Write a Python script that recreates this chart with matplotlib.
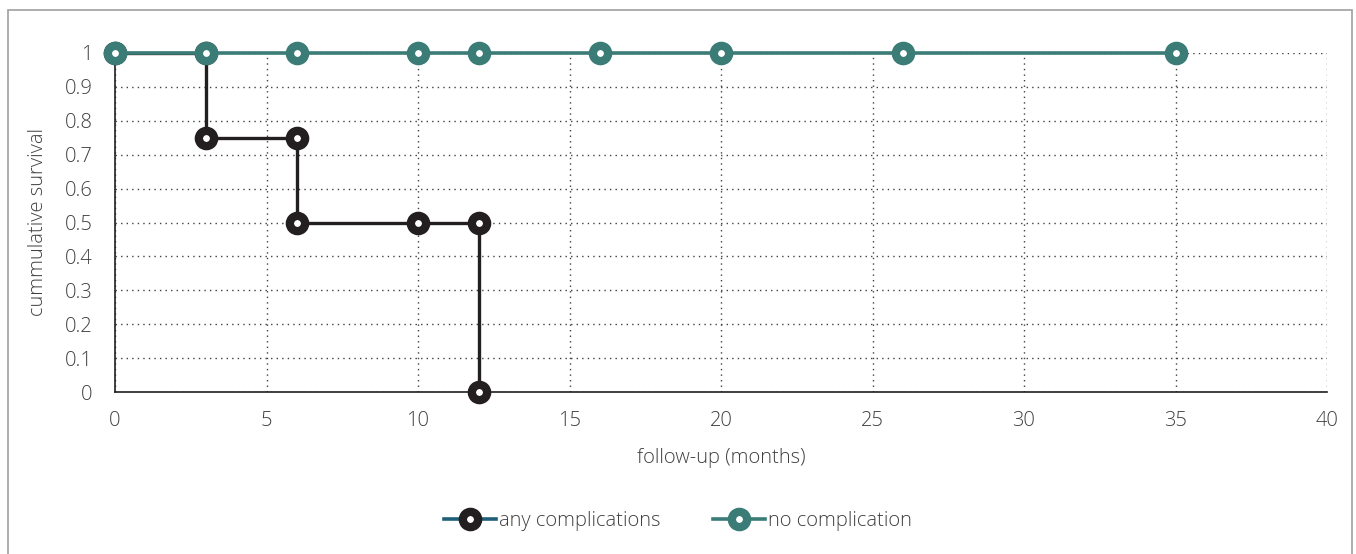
"""
Kaplan-Meier style survival plot: complications vs no complication.
"""
import matplotlib
matplotlib.use("Agg")
import matplotlib.pyplot as plt
from matplotlib.lines import Line2D
from matplotlib.patches import Rectangle

# data
comp_months = [0, 3, 3, 6, 6, 10, 12, 12]
comp_survival = [1, 1, 0.75, 0.75, 0.5, 0.5, 0.5, 0]
nocomp_months = [0, 3, 6, 10, 12, 16, 20, 26, 35]
nocomp_survival = [1, 1, 1, 1, 1, 1, 1, 1, 1]
x_ticks = [0, 5, 10, 15, 20, 25, 30, 35, 40]
y_ticks = [0, 0.1, 0.2, 0.3, 0.4, 0.5, 0.6, 0.7, 0.8, 0.9, 1]
y_tick_labels = ["0", "0.1", "0.2", "0.3", "0.4", "0.5", "0.6", "0.7", "0.8", "0.9", "1"]

TEAL = "#3b7c77"
BLACK = "#231f20"
TEXT = "#404040"
FS = 14.5

plt.rcParams['font.family'] = ['Open Sans', 'DejaVu Sans']
plt.rcParams['font.weight'] = 'light'
plt.rcParams['axes.labelweight'] = 'light'

fig = plt.figure(figsize=(13.56, 5.54), dpi=100)
ax = fig.add_axes([115 / 1356, 1 - 392 / 554, 1212 / 1356, 339 / 554])

marker_kw = dict(marker='o', markersize=11, markeredgewidth=6,
                 markerfacecolor='white', clip_on=False)

ax.plot(comp_months, comp_survival, color=BLACK, linewidth=2.4,
        markeredgecolor=BLACK, zorder=3, **marker_kw)
ax.plot(nocomp_months, nocomp_survival, color=TEAL, linewidth=2.6,
        markeredgecolor=TEAL, zorder=4, **marker_kw)

ax.set_xlim(0, 40)
ax.set_ylim(0, 1)
ax.set_xticks(x_ticks)
ax.set_yticks(y_ticks)
ax.set_yticklabels(y_tick_labels)
ax.tick_params(length=0, labelsize=FS, labelcolor=TEXT)
ax.tick_params(axis='x', pad=14)
ax.tick_params(axis='y', pad=16)

ax.grid(True, linestyle=(0, (1, 3)), color='#404040', linewidth=1.0)
ax.set_axisbelow(True)
for side in ['top', 'right']:
    ax.spines[side].set_visible(False)
for side in ['left', 'bottom']:
    ax.spines[side].set_color(BLACK)
    ax.spines[side].set_linewidth(1.2)

ax.set_xlabel("follow-up (months)", fontsize=FS, color=TEXT, labelpad=12)
ax.set_ylabel("cummulative survival", fontsize=FS, color=TEXT, labelpad=12)

# legend (first entry has the odd blue line Excel draws)
handles = [
    Line2D([], [], color='#1f5f7a', linewidth=2.6, markeredgecolor=BLACK, **marker_kw),
    Line2D([], [], color=TEAL, linewidth=2.6, markeredgecolor=TEAL, **marker_kw),
]
fig.legend(handles, ["any complications", "no complication"],
           loc='center', bbox_to_anchor=(0.5, 1 - 521 / 554), ncol=2,
           frameon=False, fontsize=FS, labelcolor=TEXT,
           handlelength=2.6, handletextpad=0.15, columnspacing=2.6)

# outer frame
fig.patches.append(Rectangle((8 / 1356, -0.05), 1344 / 1356, 1.05 - 10 / 554,
                             transform=fig.transFigure, fill=False,
                             edgecolor='#a0a0a0', linewidth=1.2))

fig.savefig("out.png", dpi=100)
